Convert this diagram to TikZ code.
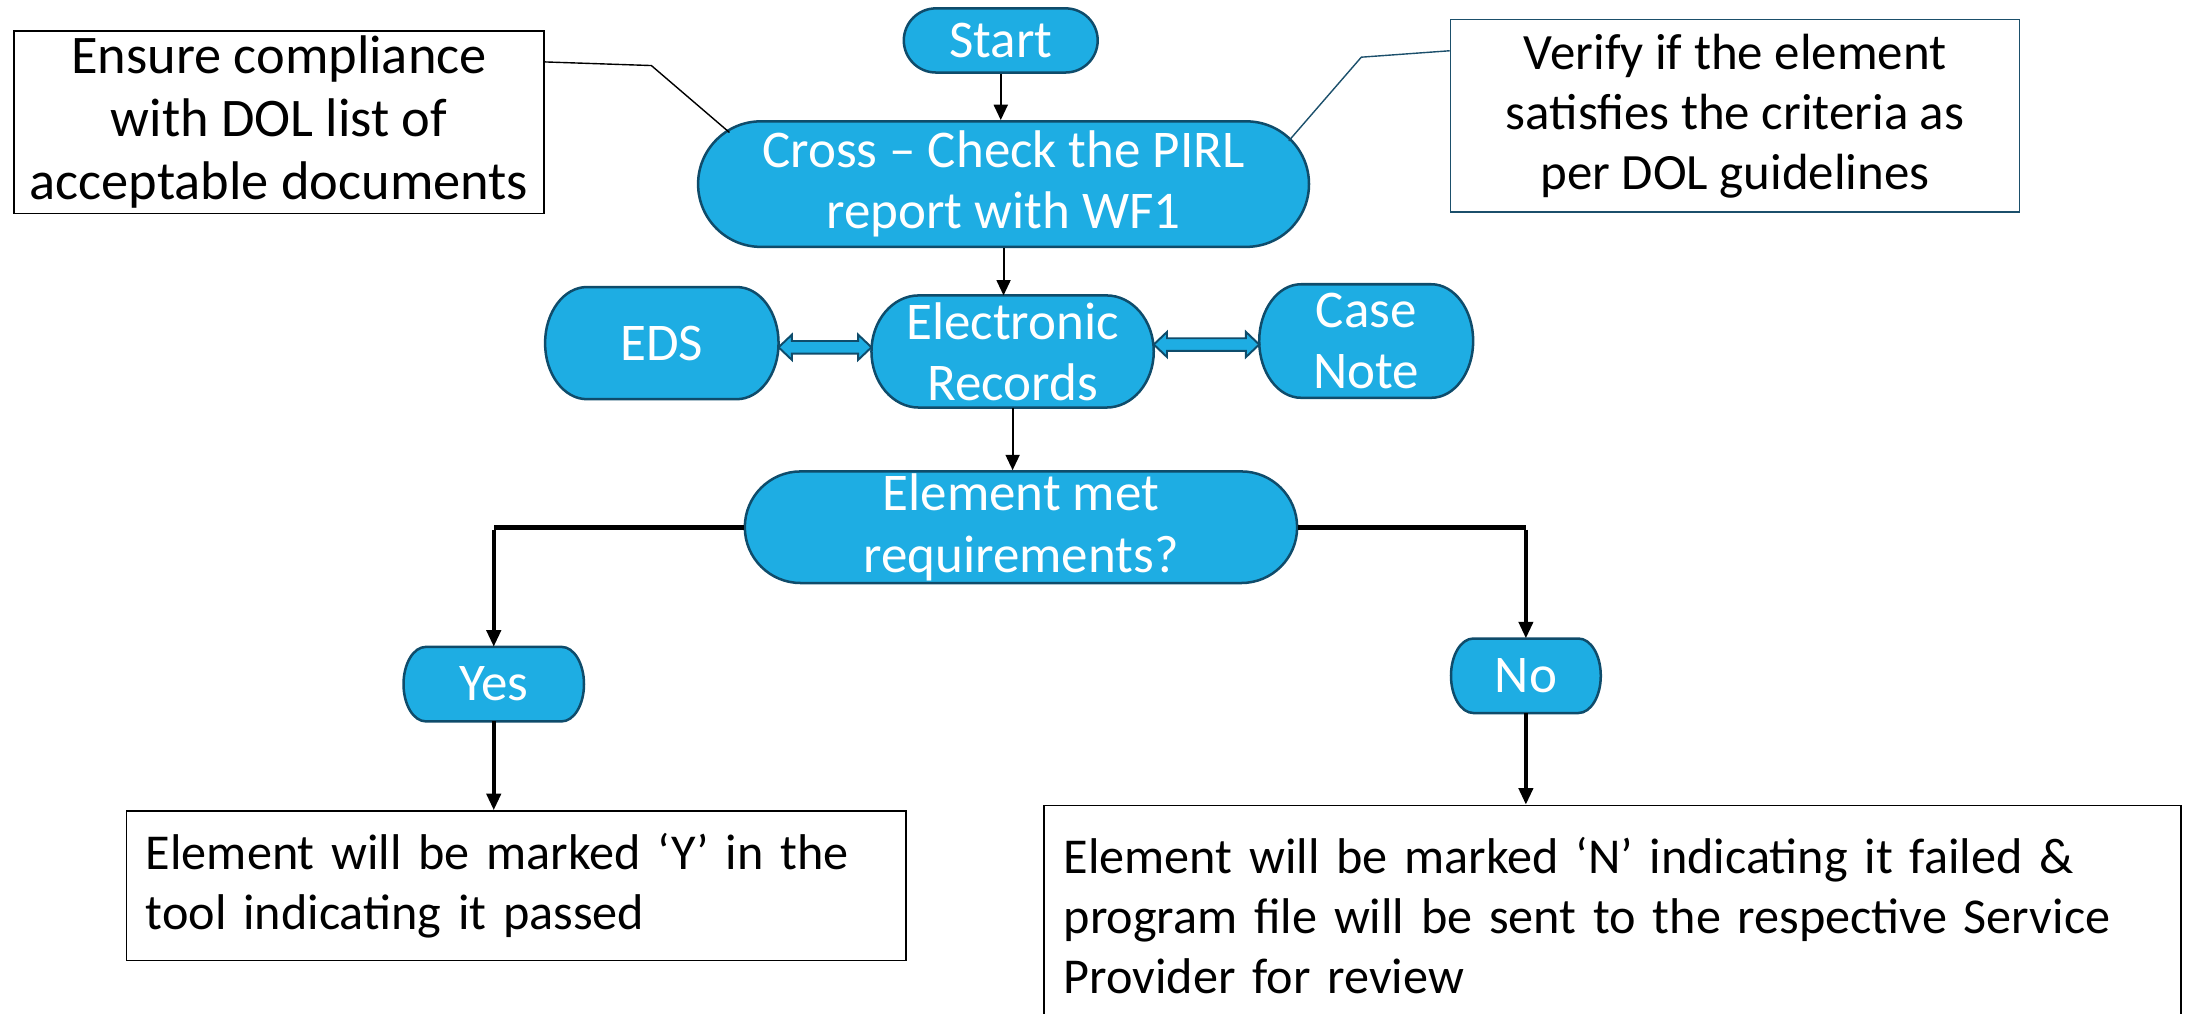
\documentclass[tikz,border=0pt]{standalone}
\usepackage{fontspec}
\setmainfont{Carlito}
\usetikzlibrary{arrows.meta,calc,shapes.misc}
\definecolor{nodeblue}{HTML}{1EADE3}
\definecolor{nodeedge}{HTML}{0F4C6B}
\definecolor{calloutedge}{HTML}{1B4F6B}
\pgfdeclarelayer{bg}
\pgfsetlayers{bg,main}
\tikzset{
  bluetext/.style={text=white,align=center,font=\fontsize{38}{44}\selectfont,inner sep=0pt},
  stadium/.style={bluetext,rounded rectangle,fill=nodeblue,draw=nodeedge,line width=1.8pt},
  softbox/.style={bluetext,rectangle},
  softfill/.style={fill=nodeblue,draw=nodeedge,line width=1.8pt},
  notebox/.style={draw=black,line width=1.2pt,fill=white,align=center,inner sep=0pt,
    font=\fontsize{39}{45}\selectfont},
  resultbox/.style={draw=black,line width=1.2pt,fill=white,align=left,inner sep=0pt,
    font=\fontsize{36}{43}\selectfont},
  thinarrow/.style={line width=1.4pt,-{Triangle[length=11pt,width=10pt]}},
  thickline/.style={line width=3.6pt},
  thickarrow/.style={line width=3.2pt,-{Triangle[length=12pt,width=10pt]}},
  blockarrow/.style={fill=nodeblue,draw=nodeedge,line width=1.4pt,line join=miter},
}
% elliptical-sided box drawn behind a node
\newcommand\softshape[2]{%
  \path[softfill] let \p1=(#1.north west), \p2=(#1.south east), \n1={(\y1-\y2)/2} in
    (\x1+#2,\y1) -- (\x2-#2,\y1)
    arc[start angle=90,end angle=-90,x radius=#2,y radius=\n1]
    -- (\x1+#2,\y2)
    arc[start angle=270,end angle=90,x radius=#2,y radius=\n1] -- cycle;}
% double block arrow between two anchors, at a given y
\newcommand\dblblock[3]{%
  \path[blockarrow] let \p1=(#1), \p2=(#2), \p3=(0,#3) in
    (\x1,\y3) -- (\x1+9.5pt,\y3+9pt) -- (\x1+9.5pt,\y3+4.5pt) -- (\x2-9.5pt,\y3+4.5pt)
    -- (\x2-9.5pt,\y3+9pt) -- (\x2,\y3) -- (\x2-9.5pt,\y3-9pt) -- (\x2-9.5pt,\y3-4.5pt)
    -- (\x1+9.5pt,\y3-4.5pt) -- (\x1+9.5pt,\y3-9pt) -- cycle;}
\begin{document}
\begin{tikzpicture}[x=1pt,y=-1pt]
\useasboundingbox (0,0) rectangle (1568,727);
% top notes
\node[notebox,minimum width=380pt,minimum height=131pt] (ensure) at (200,87.5)
  {Ensure compliance\\with DOL list of\\acceptable documents};
\node[notebox,draw=calloutedge,font=\fontsize{36.5}{43}\selectfont,
  minimum width=408pt,minimum height=138pt] (verify) at (1244,83)
  {Verify if the element\\satisfies the criteria as\\per DOL guidelines};
% flow nodes
\node[stadium,minimum width=139pt,minimum height=46pt] (start) at (717.5,29) {Start};
\node[stadium,minimum width=438pt,minimum height=90pt] (cross) at (719.5,132)
  {Cross -- Check the PIRL\\report with WF1};
\node[softbox,minimum width=167pt,minimum height=80pt] (eds) at (474.5,246) {EDS};
\node[softbox,minimum width=202pt,minimum height=80pt] (er) at (726,252)
  {\fontsize{38}{40}\selectfont Electronic\\Records};
\node[softbox,minimum width=153pt,minimum height=81pt] (cn) at (979.5,244.5)
  {\fontsize{38}{40}\selectfont Case\\Note};
\node[stadium,minimum width=396pt,minimum height=80pt] (em) at (732,378)
  {Element met\\requirements?};
\node[softbox,minimum width=129pt,minimum height=53pt] (yes) at (354,490.5) {Yes};
\node[softbox,minimum width=107pt,minimum height=53pt] (no) at (1094,484.5) {No};
\begin{pgfonlayer}{bg}
  \softshape{eds}{30pt}
  \softshape{er}{34pt}
  \softshape{cn}{30pt}
  \softshape{yes}{16pt}
  \softshape{no}{16pt}
\end{pgfonlayer}
\node[resultbox,anchor=north west,minimum width=559pt,minimum height=107pt,
  text width=531pt] (yesbox) at (90,581)
  {Element will be marked ‘Y’ in the\\tool indicating it passed};
\node[resultbox,anchor=north west,minimum width=815pt,minimum height=158pt,
  text width=787pt] (nobox) at (748,577)
  {Element will be marked ‘N’ indicating it failed \&\\program file will be sent to the respective Service\\Provider for review};
% callouts
\coordinate (ebend) at (467,47);
\coordinate (eend) at (523,95);
\draw[line width=1pt] ($(ensure.north east)+(0,23)$) -- (ebend) -- (eend);
\coordinate (vbend) at (976,41);
\coordinate (vend) at (924,101);
\draw[line width=1pt,draw=calloutedge] ($(verify.north west)+(0,23)$) -- (vbend) -- (vend);
% arrows
\draw[thinarrow] (start.south) -- (start.south |- cross.north);
\draw[thinarrow] (cross.south) -- (cross.south |- er.north);
\draw[thinarrow] (er.south) -- (er.south |- em.north);
\dblblock{eds.east}{er.west}{249}
\dblblock{er.east}{cn.west}{247}
% decision branches
\draw[thickline] (em.west) -- (em.west -| yes.north);
\draw[thickarrow] ([yshift=-1.8pt]em.west -| yes.north) -- (yes.north);
\draw[thickline] (em.east) -- (em.east -| no.north);
\draw[thickarrow] ([yshift=-1.8pt]em.east -| no.north) -- (no.north);
\draw[thickarrow] (yes.south) -- (yes.south |- yesbox.north);
\draw[thickarrow] (no.south) -- (no.south |- nobox.north);
\end{tikzpicture}
\end{document}
